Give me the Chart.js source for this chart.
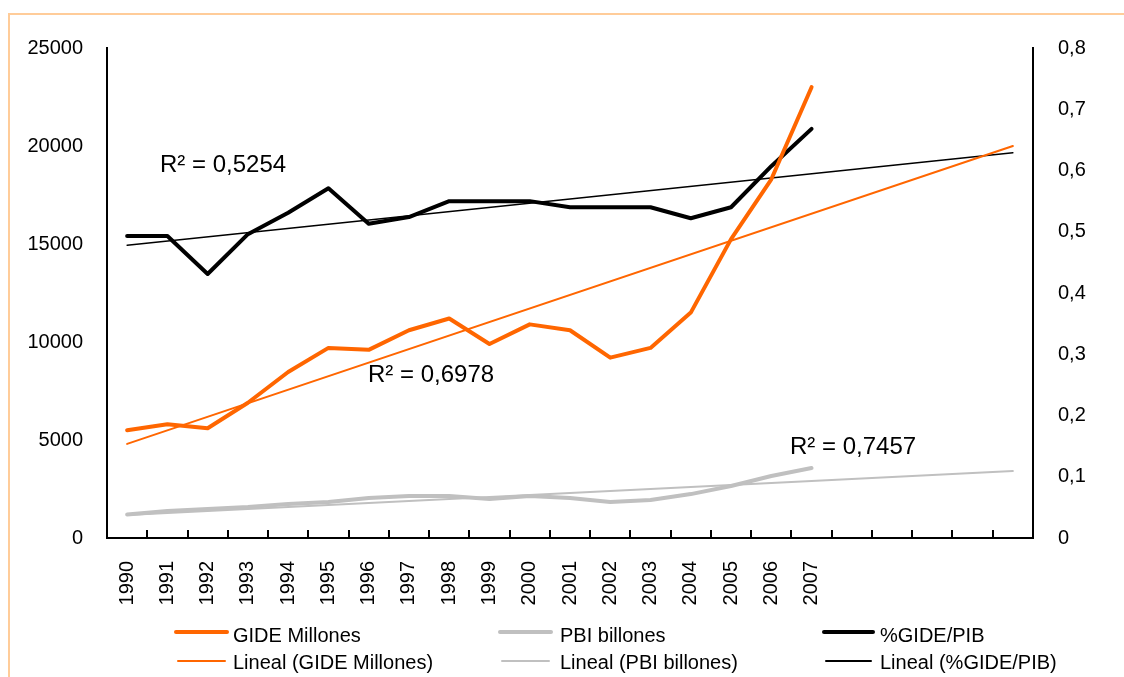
<!DOCTYPE html>
<html>
<head>
<meta charset="utf-8">
<script src="https://cdn.jsdelivr.net/npm/chart.js@4/dist/chart.umd.min.js"></script>
<style>
  html, body { margin: 0; padding: 0; background: #fff; }
  #wrap { position: relative; width: 1124px; height: 677px; overflow: hidden; font-family: "Liberation Sans", Arial, sans-serif; }
  #frame { position: absolute; left: 8px; top: 13px; width: 1200px; height: 800px; border-top: 2px solid #FFCC99; border-left: 2px solid #FFCC99; }
  canvas { position: absolute; left: 0; top: 0; }
  .lg-line { position: absolute; }
  .lg-text { position: absolute; font-size: 20px; line-height: 20px; color: #000; white-space: nowrap; }
</style>
</head>
<body>
<div id="wrap">
  <div id="frame"></div>
  <canvas id="c" width="1124" height="677"></canvas>
  <div id="legend"></div>
</div>
<script>
// ---- data ----
const categories = ['1990','1991','1992','1993','1994','1995','1996','1997','1998','1999',
                    '2000','2001','2002','2003','2004','2005','2006','2007','','','','',''];
const gideMillones = [5500, 5800, 5600, 6900, 8470, 9700, 9600, 10600, 11200, 9900,
                      10900, 10600, 9200, 9700, 11500, 15250, 18300, 23000];
const pbiBillones  = [1200, 1380, 1480, 1580, 1730, 1840, 2040, 2140, 2140, 1990,
                      2140, 2040, 1840, 1940, 2240, 2650, 3160, 3570];
const gidePib      = [0.493, 0.493, 0.431, 0.496, 0.531, 0.571, 0.513, 0.524, 0.550, 0.550,
                      0.550, 0.540, 0.540, 0.540, 0.522, 0.540, 0.607, 0.668];
// trend line end values (1990 and last forecast period)
const trendGide  = [4800, 20000];
const trendPbi   = [1170, 3420];
const trendRatio = [0.478, 0.629];
const r2Labels   = ['R² = 0,5254', 'R² = 0,6978', 'R² = 0,7457'];
const leftTicks  = [0, 5000, 10000, 15000, 20000, 25000];
const rightTicks = [0, 0.1, 0.2, 0.3, 0.4, 0.5, 0.6, 0.7, 0.8];

function trendSeries(ends) {
  const arr = new Array(categories.length).fill(null);
  arr[0] = ends[0];
  arr[categories.length - 1] = ends[1];
  return arr;
}

const ORANGE = '#FF6600', GRAY = '#C0C0C0', BLACK = '#000000';

const innerTicks = {
  id: 'innerTicks',
  afterDatasetsDraw(chart) {
    const x = chart.scales.x, ctx = chart.ctx, b = chart.chartArea.bottom;
    ctx.save();
    ctx.strokeStyle = '#000';
    ctx.lineWidth = 2;
    for (let i = 1; i < categories.length; i++) {
      const px = Math.round((x.getPixelForTick(i - 1) + x.getPixelForTick(i)) / 2);
      ctx.beginPath();
      ctx.moveTo(px, b - 8);
      ctx.lineTo(px, b);
      ctx.stroke();
    }
    ctx.restore();
  }
};

const r2Plugin = {
  id: 'r2',
  afterDatasetsDraw(chart) {
    const ctx = chart.ctx;
    ctx.save();
    ctx.font = '24px "Liberation Sans", Arial, sans-serif';
    ctx.fillStyle = '#000';
    ctx.textBaseline = 'middle';
    ctx.textAlign = 'left';
    const pos = [[160, 165], [368, 375], [790, 447]];
    r2Labels.forEach((t, i) => ctx.fillText(t, pos[i][0], pos[i][1]));
    ctx.restore();
  }
};

const common = { pointRadius: 0, pointHoverRadius: 0, tension: 0, borderJoinStyle: 'round', borderCapStyle: 'round', fill: false };

new Chart(document.getElementById('c'), {
  type: 'line',
  data: {
    labels: categories,
    datasets: [
      Object.assign({ label: 'GIDE Millones', data: gideMillones, borderColor: ORANGE, borderWidth: 4, yAxisID: 'y' }, common),
      Object.assign({ label: 'PBI billones', data: pbiBillones, borderColor: GRAY, borderWidth: 4, yAxisID: 'y' }, common),
      Object.assign({ label: '%GIDE/PIB', data: gidePib, borderColor: BLACK, borderWidth: 4, yAxisID: 'y1' }, common),
      Object.assign({ label: 'Lineal (GIDE Millones)', data: trendSeries(trendGide), borderColor: ORANGE, borderWidth: 2, yAxisID: 'y', spanGaps: true }, common),
      Object.assign({ label: 'Lineal (PBI billones)', data: trendSeries(trendPbi), borderColor: GRAY, borderWidth: 2, yAxisID: 'y', spanGaps: true }, common),
      Object.assign({ label: 'Lineal (%GIDE/PIB)', data: trendSeries(trendRatio), borderColor: BLACK, borderWidth: 1.5, yAxisID: 'y1', spanGaps: true }, common)
    ]
  },
  options: {
    responsive: false,
    animation: false,
    devicePixelRatio: 1,
    layout: { autoPadding: false, padding: { top: 48, left: 0, right: 0, bottom: 0 } },
    plugins: { legend: { display: false }, tooltip: { enabled: false } },
    scales: {
      x: {
        type: 'category',
        offset: true,
        grid: { display: false, drawTicks: false },
        border: { display: true, color: '#000', width: 2 },
        ticks: {
          autoSkip: false, minRotation: 90, maxRotation: 90, padding: 23,
          color: '#000', font: { family: '"Liberation Sans", Arial, sans-serif', size: 20 }
        },
        afterFit(s) { s.height = 677 - 48 - 490; }
      },
      y: {
        position: 'left', min: 0, max: 25000,
        afterBuildTicks(s) { s.ticks = leftTicks.map(v => ({ value: v })); },
        grid: { display: false, drawTicks: false },
        border: { display: true, color: '#000', width: 2 },
        ticks: {
          padding: 24, color: '#000',
          font: { family: '"Liberation Sans", Arial, sans-serif', size: 20 },
          callback: v => String(v)
        },
        afterFit(s) { s.width = 107; }
      },
      y1: {
        position: 'right', min: 0, max: 0.8,
        afterBuildTicks(s) { s.ticks = rightTicks.map(v => ({ value: v })); },
        grid: { display: false, drawTicks: false },
        border: { display: true, color: '#000', width: 2 },
        ticks: {
          padding: 25, color: '#000',
          font: { family: '"Liberation Sans", Arial, sans-serif', size: 20 },
          callback: v => v === 0 ? '0' : Number(v).toFixed(1).replace('.', ',')
        },
        afterFit(s) { s.width = 1124 - 1033; }
      }
    }
  },
  plugins: [innerTicks, r2Plugin]
});

// ---- HTML legend (3 columns x 2 rows) ----
const legendItems = [
  { text: 'GIDE Millones', color: ORANGE, w: 4, col: 0, row: 0 },
  { text: 'PBI billones', color: GRAY, w: 4, col: 1, row: 0 },
  { text: '%GIDE/PIB', color: BLACK, w: 4, col: 2, row: 0 },
  { text: 'Lineal (GIDE Millones)', color: ORANGE, w: 2, col: 0, row: 1 },
  { text: 'Lineal (PBI billones)', color: GRAY, w: 2, col: 1, row: 1 },
  { text: 'Lineal (%GIDE/PIB)', color: BLACK, w: 2, col: 2, row: 1 }
];
const colLine = [[174, 229], [498, 553], [822, 875]];
const colText = [233, 560, 880];
const rowLineY = [632, 661];
const rowTextTop = [625, 652];
const lg = document.getElementById('legend');
legendItems.forEach(it => {
  const l = document.createElement('div');
  l.className = 'lg-line';
  const inset = it.row === 1 ? 3 : 0;
  l.style.left = (colLine[it.col][0] + inset) + 'px';
  l.style.width = (colLine[it.col][1] - colLine[it.col][0] - 2 * inset) + 'px';
  l.style.top = (rowLineY[it.row] - it.w / 2) + 'px';
  l.style.height = it.w + 'px';
  l.style.background = it.color;
  l.style.borderRadius = (it.w / 2) + 'px';
  lg.appendChild(l);
  const t = document.createElement('div');
  t.className = 'lg-text';
  t.style.left = colText[it.col] + 'px';
  t.style.top = rowTextTop[it.row] + 'px';
  t.textContent = it.text;
  lg.appendChild(t);
});
</script>
</body>
</html>
